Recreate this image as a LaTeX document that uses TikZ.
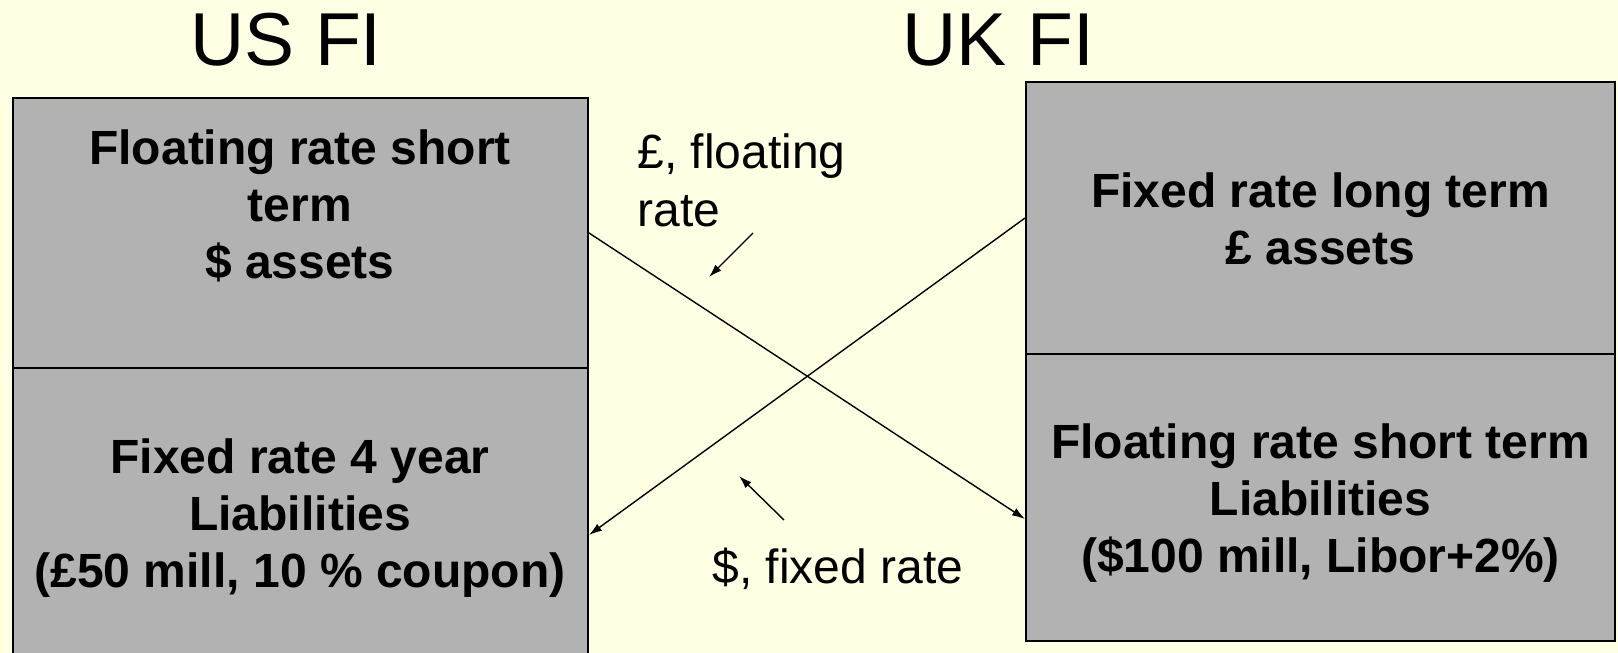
\documentclass[tikz,border=0pt]{standalone}
\usepackage{fontspec}
\setmainfont{Liberation Sans}
\usetikzlibrary{arrows.meta,fit}
\definecolor{paper}{RGB}{255,255,227}
\definecolor{panel}{RGB}{178,178,178}
\tikzset{
  box/.style={draw=black, line width=1pt, fill=panel, inner sep=0pt, rectangle},
  conn/.style={line width=0.7pt, -{Latex[length=6.5pt,width=4.2pt]}},
  title/.style={font=\fontsize{37.5}{45}\selectfont, inner sep=0pt, anchor=base},
  boxtext/.style={font=\fontsize{24}{28.5}\selectfont\bfseries, align=center, inner sep=0pt, anchor=base},
  flowtext/.style={font=\fontsize{24}{29}\selectfont, align=left, inner sep=0pt, anchor=base west}
}
\begin{document}
\begin{tikzpicture}[x=0.5pt, y=-0.5pt]
  % canvas
  \useasboundingbox (0,0) rectangle (1618,653);
  \fill[paper] (0,0) rectangle (1618,653);
  \clip (0,0) rectangle (1618,653);

  % headings
  \node[title] (us) at (286,65) {US FI};
  \node[title] (uk) at (998.5,65) {UK FI};

  % balance sheet of the US institution
  \node[box, fit={(12.5,98) (588,368)}] (lt) {};
  \node[box, fit={(12.5,368) (588,702)}] (lb) {};
  % balance sheet of the UK institution
  \node[box, fit={(1026,82) (1615,354)}] (rt) {};
  \node[box, fit={(1026,354) (1615,641)}] (rb) {};

  % multi-line texts are placed by the baseline of their last line
  \node[boxtext] (ltt) at (300,278) {Floating rate short\\term\\\$ assets};
  \node[boxtext] (lbt) at (300,587) {Fixed rate 4 year\\Liabilities\\(£50 mill, 10 \% coupon)};
  \node[boxtext] (rtt) at (1320.5,264) {Fixed rate long term\\£ assets};
  \node[boxtext] (rbt) at (1320.5,572) {Floating rate short term\\Liabilities\\(\$100 mill, Libor+2\%)};

  % swap flows
  \draw[conn] (lt.east) -- ([yshift=-10.75pt]rb.west);
  \draw[conn] (rt.west) -- (lb.east);

  \node[flowtext] (pound) at (637,226) {£, floating\\rate};
  \node[flowtext] (dollar) at (712,583) {\$, fixed rate};

  \coordinate (p1) at (753,233);
  \coordinate (p2) at (709,277);
  \coordinate (d1) at (784,520);
  \coordinate (d2) at (739,476);
  \draw[conn] (p1) -- (p2);
  \draw[conn] (d1) -- (d2);
\end{tikzpicture}
\end{document}
